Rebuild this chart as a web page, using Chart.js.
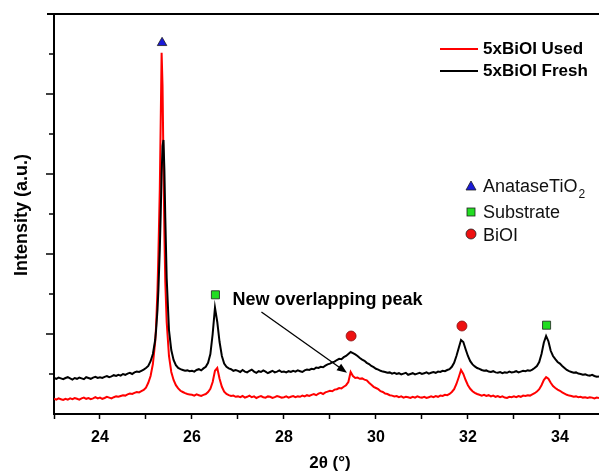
<!DOCTYPE html>
<html>
<head>
<meta charset="utf-8">
<script src="https://cdn.jsdelivr.net/npm/chart.js@4.4.1/dist/chart.umd.min.js"></script>
<style>
  html, body { margin: 0; padding: 0; background: #ffffff; }
  #wrap { position: relative; width: 599px; height: 472px; }
</style>
</head>
<body>
<div id="wrap"><canvas id="c" width="599" height="472"></canvas></div>
<script>
// ---- data ----
const twoTheta = [
  23.00,23.05,23.10,23.15,23.20,23.25,23.30,23.35,23.40,23.45,23.50,23.55,23.60,23.65,23.70,23.75,23.80,23.85,23.90,23.95,
  24.00,24.05,24.10,24.15,24.20,24.25,24.30,24.35,24.40,24.45,24.50,24.55,24.60,24.65,24.70,24.75,24.80,24.85,24.90,24.95,
  25.00,25.05,25.10,25.15,25.20,25.22,25.25,25.27,25.30,25.32,25.34,25.36,25.38,25.40,25.42,25.45,25.50,25.55,25.60,25.65,25.70,25.75,25.80,25.85,25.90,25.95,
  26.00,26.05,26.10,26.15,26.20,26.25,26.30,26.35,26.40,26.45,26.50,26.55,26.60,26.65,26.70,26.75,26.80,26.85,26.90,26.95,
  27.00,27.05,27.10,27.15,27.20,27.25,27.30,27.35,27.40,27.45,27.50,27.55,27.60,27.65,27.70,27.75,27.80,27.85,27.90,27.95,
  28.00,28.05,28.10,28.15,28.20,28.25,28.30,28.35,28.40,28.45,28.50,28.55,28.60,28.65,28.70,28.75,28.80,28.85,28.90,28.95,
  29.00,29.05,29.10,29.15,29.20,29.25,29.30,29.35,29.40,29.45,29.50,29.55,29.60,29.65,29.70,29.75,29.80,29.85,29.90,29.95,
  30.00,30.05,30.10,30.15,30.20,30.25,30.30,30.35,30.40,30.45,30.50,30.55,30.60,30.65,30.70,30.75,30.80,30.85,30.90,30.95,
  31.00,31.05,31.10,31.15,31.20,31.25,31.30,31.35,31.40,31.45,31.50,31.55,31.60,31.65,31.70,31.75,31.80,31.85,31.90,31.95,
  32.00,32.05,32.10,32.15,32.20,32.25,32.30,32.35,32.40,32.45,32.50,32.55,32.60,32.65,32.70,32.75,32.80,32.85,32.90,32.95,
  33.00,33.05,33.10,33.15,33.20,33.25,33.30,33.35,33.40,33.45,33.50,33.55,33.60,33.65,33.70,33.75,33.80,33.85,33.90,33.95,
  34.00,34.05,34.10,34.15,34.20,34.25,34.30,34.35,34.40,34.45,34.50,34.55,34.60,34.65,34.70,34.75,34.80,34.85
];
const usedIntensity = [
  0.38,0.36,0.39,0.37,0.35,0.38,0.36,0.39,0.37,0.40,0.38,0.36,0.39,0.41,0.38,0.40,0.37,0.39,0.42,0.39,
  0.41,0.38,0.40,0.43,0.41,0.39,0.42,0.44,0.43,0.45,0.47,0.46,0.49,0.51,0.50,0.53,0.55,0.54,0.57,0.60,
  0.66,0.78,0.95,1.25,1.80,2.20,3.10,4.00,5.60,7.30,9.03,8.20,6.30,4.50,3.30,2.30,1.45,1.05,0.85,0.72,0.64,0.58,0.55,0.52,0.50,0.49,
  0.48,0.46,0.49,0.47,0.45,0.48,0.50,0.55,0.63,0.80,1.08,1.15,0.88,0.68,0.56,0.50,0.47,0.45,0.46,0.43,
  0.44,0.42,0.45,0.41,0.43,0.46,0.42,0.44,0.40,0.43,0.45,0.42,0.41,0.44,0.43,0.40,0.42,0.45,0.43,0.41,
  0.42,0.44,0.41,0.43,0.45,0.42,0.44,0.43,0.46,0.44,0.47,0.45,0.48,0.50,0.47,0.51,0.53,0.50,0.54,0.56,
  0.58,0.57,0.61,0.62,0.65,0.64,0.68,0.72,0.80,1.05,0.95,0.90,0.91,0.88,0.89,0.86,0.84,0.78,0.73,0.68,
  0.65,0.62,0.57,0.55,0.51,0.50,0.47,0.46,0.44,0.45,0.42,0.44,0.41,0.43,0.42,0.40,0.43,0.41,0.44,0.42,
  0.41,0.43,0.40,0.42,0.44,0.42,0.45,0.43,0.46,0.45,0.48,0.47,0.50,0.55,0.62,0.75,0.92,1.10,1.00,0.85,
  0.72,0.63,0.57,0.53,0.50,0.48,0.46,0.48,0.45,0.47,0.44,0.46,0.43,0.45,0.42,0.44,0.41,0.40,0.43,0.42,
  0.44,0.42,0.45,0.43,0.46,0.45,0.47,0.46,0.49,0.52,0.56,0.62,0.72,0.85,0.92,0.88,0.78,0.70,0.65,0.61,
  0.58,0.54,0.51,0.48,0.46,0.45,0.43,0.44,0.42,0.43,0.41,0.42,0.40,0.42,0.41,0.39,0.41,0.40
];
const freshIntensity = [
  0.90,0.88,0.91,0.89,0.87,0.90,0.92,0.89,0.86,0.90,0.88,0.91,0.89,0.87,0.92,0.90,0.88,0.91,0.93,0.90,
  0.92,0.90,0.93,0.95,0.92,0.94,0.97,0.95,0.98,0.96,1.00,0.98,1.01,1.03,1.00,1.04,1.06,1.05,1.08,1.11,
  1.15,1.20,1.32,1.50,1.85,2.10,2.60,3.10,4.10,5.00,6.00,6.70,6.85,6.10,4.90,3.40,2.10,1.60,1.35,1.22,1.15,1.12,1.10,1.08,1.09,1.07,
  1.08,1.06,1.10,1.12,1.09,1.14,1.18,1.28,1.50,2.00,2.66,2.30,1.80,1.45,1.26,1.18,1.14,1.12,1.08,1.10,
  1.08,1.05,1.10,1.06,1.04,1.08,1.11,1.06,1.03,1.07,1.05,1.09,1.06,1.02,1.05,1.08,1.04,1.06,1.09,1.05,
  1.06,1.04,1.07,1.05,1.08,1.06,1.09,1.07,1.05,1.09,1.11,1.10,1.13,1.12,1.16,1.15,1.18,1.17,1.21,1.24,
  1.26,1.29,1.31,1.35,1.38,1.37,1.42,1.45,1.50,1.55,1.52,1.49,1.45,1.40,1.36,1.33,1.28,1.25,1.20,1.17,
  1.13,1.11,1.08,1.06,1.05,1.03,1.04,1.01,1.03,1.00,1.02,0.99,1.01,1.03,0.98,1.00,1.02,0.99,1.01,1.03,
  1.00,1.02,1.04,1.01,1.03,1.05,1.03,1.06,1.05,1.08,1.07,1.10,1.12,1.18,1.28,1.45,1.65,1.85,1.80,1.62,
  1.45,1.32,1.24,1.19,1.15,1.13,1.10,1.08,1.09,1.06,1.05,1.07,1.04,1.03,1.05,1.02,1.04,1.03,1.06,1.04,
  1.05,1.07,1.04,1.06,1.08,1.07,1.09,1.08,1.11,1.15,1.20,1.30,1.50,1.78,1.95,1.82,1.58,1.45,1.37,1.30,
  1.26,1.20,1.15,1.10,1.07,1.05,1.03,1.04,1.01,1.00,0.98,0.99,0.97,0.96,0.98,0.95,0.93,0.94
];
// phase markers
const anataseX = [25.35];        const anataseY = [9.28];
const substrateX = [26.51, 33.71]; const substrateY = [2.98, 2.22];
const bioiX = [29.46, 31.87];      const bioiY = [1.95, 2.20];
// axis ticks
const xTickLabels = [24, 26, 28, 30, 32, 34];
const yMinorTicks = [1, 3, 5, 7, 9];
const yMajorTicks = [2, 4, 6, 8];
// annotation (data units)
const noteText = 'New overlapping peak';
const noteAt = [26.88, 2.85];
const arrowFrom = [27.51, 2.55];
const arrowTo = [29.37, 1.03];

const FONT = '"Liberation Sans", Arial, sans-serif';
const pts = (xs, ys) => xs.map((x, i) => ({ x: x, y: ys[i] }));

const decorPlugin = {
  id: 'decor',
  afterDraw(chart) {
    const ctx = chart.ctx;
    const xs = chart.scales.x, ys = chart.scales.y;
    const ca = chart.chartArea;
    ctx.save();
    // top frame
    ctx.strokeStyle = '#000'; ctx.lineWidth = 2;
    ctx.beginPath(); ctx.moveTo(ca.left - 7, ca.top); ctx.lineTo(chart.width, ca.top); ctx.stroke();
    // y ticks
    ctx.lineWidth = 1.5;
    yMajorTicks.forEach(v => { const p = Math.round(ys.getPixelForValue(v)); ctx.beginPath(); ctx.moveTo(ca.left - 8, p); ctx.lineTo(ca.left, p); ctx.stroke(); });
    yMinorTicks.forEach(v => { const p = Math.round(ys.getPixelForValue(v)); ctx.beginPath(); ctx.moveTo(ca.left - 5, p); ctx.lineTo(ca.left, p); ctx.stroke(); });
    // axis titles
    ctx.fillStyle = '#000';
    ctx.font = 'bold 18px ' + FONT;
    ctx.textAlign = 'center'; ctx.textBaseline = 'middle';
    ctx.save(); ctx.translate(22, (ca.top + ca.bottom) / 2 + 1); ctx.rotate(-Math.PI / 2);
    ctx.fillText('Intensity (a.u.)', 0, 0); ctx.restore();
    ctx.font = 'bold 17px ' + FONT;
    ctx.fillText('2\u03B8 (\u00B0)', 330, 463);
    // annotation
    ctx.font = 'bold 18px ' + FONT; ctx.textAlign = 'left';
    ctx.fillText(noteText, xs.getPixelForValue(noteAt[0]), ys.getPixelForValue(noteAt[1]));
    const ax0 = xs.getPixelForValue(arrowFrom[0]), ay0 = ys.getPixelForValue(arrowFrom[1]);
    const ax1 = xs.getPixelForValue(arrowTo[0]), ay1 = ys.getPixelForValue(arrowTo[1]);
    const ang = Math.atan2(ay1 - ay0, ax1 - ax0);
    ctx.lineWidth = 1.3;
    ctx.beginPath(); ctx.moveTo(ax0, ay0); ctx.lineTo(ax1 - 6 * Math.cos(ang), ay1 - 6 * Math.sin(ang)); ctx.stroke();
    ctx.beginPath();
    ctx.moveTo(ax1, ay1);
    ctx.lineTo(ax1 - 10 * Math.cos(ang) + 4 * Math.sin(ang), ay1 - 10 * Math.sin(ang) - 4 * Math.cos(ang));
    ctx.lineTo(ax1 - 10 * Math.cos(ang) - 4 * Math.sin(ang), ay1 - 10 * Math.sin(ang) + 4 * Math.cos(ang));
    ctx.closePath(); ctx.fill();
    // legend 1
    ctx.lineWidth = 2.2;
    ctx.strokeStyle = '#ff0000'; ctx.beginPath(); ctx.moveTo(440, 49); ctx.lineTo(478, 49); ctx.stroke();
    ctx.strokeStyle = '#000000'; ctx.beginPath(); ctx.moveTo(440, 71); ctx.lineTo(478, 71); ctx.stroke();
    ctx.font = 'bold 17px ' + FONT; ctx.fillStyle = '#000'; ctx.textAlign = 'left'; ctx.textBaseline = 'middle';
    ctx.fillText('5xBiOI Used', 483, 49);
    ctx.fillText('5xBiOI Fresh', 483, 71);
    // legend 2
    ctx.lineWidth = 0.8; ctx.strokeStyle = '#202020';
    ctx.fillStyle = '#1a1ad8';
    ctx.beginPath(); ctx.moveTo(471, 181); ctx.lineTo(476, 190); ctx.lineTo(466, 190); ctx.closePath(); ctx.fill(); ctx.stroke();
    ctx.fillStyle = '#22dd22';
    ctx.fillRect(467, 208, 8, 8); ctx.strokeRect(467, 208, 8, 8);
    ctx.fillStyle = '#ee1111';
    ctx.beginPath(); ctx.arc(471, 234, 5, 0, Math.PI * 2); ctx.fill(); ctx.stroke();
    ctx.fillStyle = '#111';
    ctx.font = '18px ' + FONT;
    ctx.fillText('AnataseTiO', 483, 187);
    const w = ctx.measureText('AnataseTiO').width;
    ctx.font = '12px ' + FONT;
    ctx.fillText('2', 483 + w + 1, 195);
    ctx.font = '18px ' + FONT;
    ctx.fillText('Substrate', 483, 213);
    ctx.fillText('BiOI', 483, 236);
    ctx.restore();
  }
};

new Chart(document.getElementById('c'), {
  type: 'line',
  data: {
    datasets: [
      { label: 'AnataseTiO2', data: pts(anataseX, anataseY), showLine: false, pointStyle: 'triangle', pointRadius: 5.5,
        backgroundColor: '#1a1ad8', borderColor: '#202020', borderWidth: 0.8 },
      { label: 'Substrate', data: pts(substrateX, substrateY), showLine: false, pointStyle: 'rect', pointRadius: 5.7,
        backgroundColor: '#22dd22', borderColor: '#202020', borderWidth: 0.8 },
      { label: 'BiOI', data: pts(bioiX, bioiY), showLine: false, pointStyle: 'circle', pointRadius: 5,
        backgroundColor: '#ee1111', borderColor: '#881111', borderWidth: 0.8 },
      { label: '5xBiOI Fresh', data: pts(twoTheta, freshIntensity), borderColor: '#000000', borderWidth: 2, pointRadius: 0, tension: 0 },
      { label: '5xBiOI Used', data: pts(twoTheta, usedIntensity), borderColor: '#ff0000', borderWidth: 2, pointRadius: 0, tension: 0 }
    ]
  },
  options: {
    responsive: false,
    animation: false,
    events: [],
    layout: { autoPadding: false, padding: { top: 14, right: 0, left: 0, bottom: 0 } },
    plugins: { legend: { display: false }, tooltip: { enabled: false } },
    scales: {
      x: {
        type: 'linear', min: 23, max: 34.85,
        ticks: {
          stepSize: 1, includeBounds: false, autoSkip: false, maxRotation: 0, padding: 9,
          color: '#000', font: { family: FONT, size: 16, weight: 'bold' },
          callback: v => xTickLabels.includes(v) ? String(v) : ''
        },
        grid: { drawOnChartArea: false, drawTicks: true, tickLength: 5, tickWidth: 1.5, color: '#000' },
        border: { display: true, color: '#000', width: 2 },
        afterFit: s => { s.height = 58; s.paddingRight = 0; s.paddingLeft = 0; }
      },
      y: {
        min: 0, max: 10,
        ticks: { display: false, stepSize: 1 },
        grid: { display: false },
        border: { display: true, color: '#000', width: 2 },
        afterFit: s => { s.width = 54; s.paddingTop = 0; s.paddingBottom = 0; }
      }
    }
  },
  plugins: [decorPlugin]
});
</script>
</body>
</html>
